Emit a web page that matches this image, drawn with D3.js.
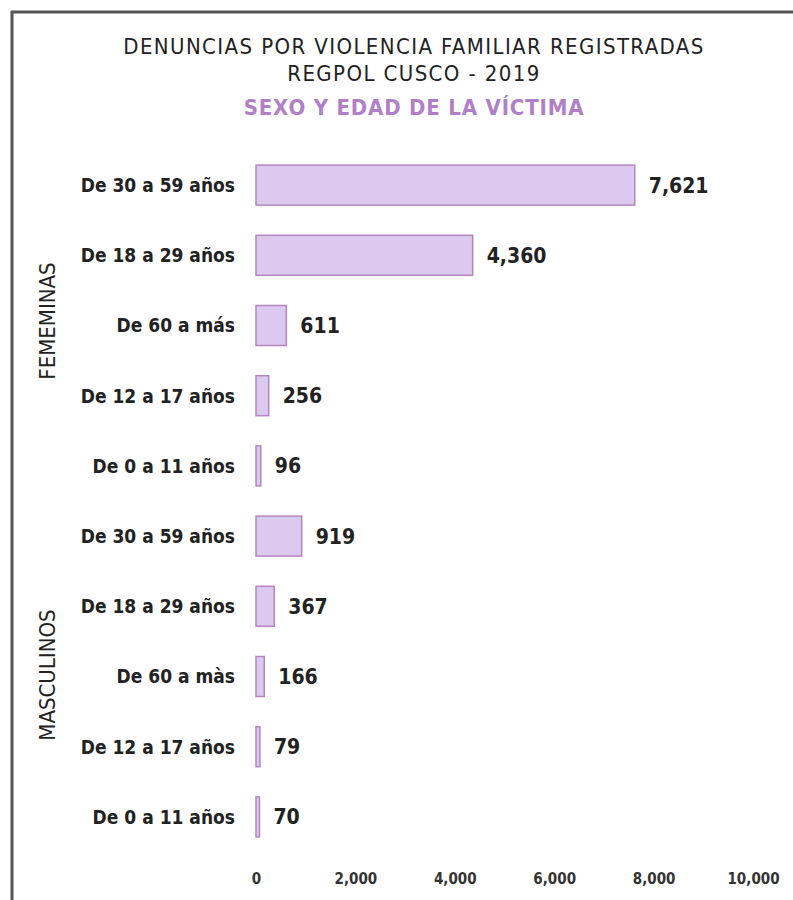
<!DOCTYPE html>
<html>
<head>
<meta charset="utf-8">
<script src="https://cdn.jsdelivr.net/npm/d3@7"></script>
<style>
body { margin: 0; background: #fff; }
svg text { font-family: "DejaVu Sans Condensed", "DejaVu Sans", sans-serif; }
</style>
</head>
<body>
<svg id="chart"></svg>
<script>
// categories (top to bottom)
var categories = ["De 30 a 59 años", "De 18 a 29 años", "De 60 a más", "De 12 a 17 años", "De 0 a 11 años",
    "De 30 a 59 años", "De 18 a 29 años", "De 60 a màs", "De 12 a 17 años", "De 0 a 11 años"]
var groups = ["F", "F", "F", "F", "F", "M", "M", "M", "M", "M"]
var values = [7621, 4360, 611, 256, 96, 919, 367, 166, 79, 70]
var groupNames = ["FEMEMINAS", "MASCULINOS"]
var tickValues = [0, 2000, 4000, 6000, 8000, 10000]
var titleLines = ["DENUNCIAS POR VIOLENCIA FAMILIAR REGISTRADAS", "REGPOL CUSCO - 2019"]
var subtitle = "SEXO Y EDAD DE LA VÍCTIMA"

var screen = { width: 793, height: 900 }
var margins = { left: 256, top: 150, bottom: 865 }

var svg = d3.select("#chart")
    .attr("width", screen.width)
    .attr("height", screen.height)

// frame of the scanned page
svg.append("line")
    .attr("x1", 12).attr("y1", 11).attr("x2", 12).attr("y2", 900)
    .attr("stroke", "#555").attr("stroke-width", 3)
svg.append("line")
    .attr("x1", 11).attr("y1", 12).attr("x2", 793).attr("y2", 12)
    .attr("stroke", "#555").attr("stroke-width", 3)

var rows = d3.range(values.length)

var xScale = d3.scaleLinear()
    .domain([0, 10000])
    .range([margins.left, 753])

var yScale = d3.scaleBand()
    .domain(rows)
    .range([margins.top, margins.top + 70.2 * values.length])
    .paddingInner(0.43)
    .paddingOuter(0.215)

// titles
var titles = svg.append("g").attr("text-anchor", "middle")
titleLines.forEach(function (line, i) {
    titles.append("text")
        .text(line)
        .attr("x", 414)
        .attr("y", 54 + i * 27)
        .attr("font-size", 22)
        .attr("letter-spacing", 1.4)
        .attr("fill", "#222")
})
titles.append("text")
    .text(subtitle)
    .attr("x", 414)
    .attr("y", 115)
    .attr("font-size", 22)
    .attr("letter-spacing", 0.8)
    .attr("font-weight", "bold")
    .attr("fill", "#b17fc7")

// bars
svg.append("g")
    .selectAll("rect")
    .data(rows)
    .enter()
    .append("rect")
    .attr("x", xScale(0))
    .attr("y", function (i) { return yScale(i) })
    .attr("width", function (i) { return Math.max(2, xScale(values[i]) - xScale(0)) })
    .attr("height", yScale.bandwidth())
    .attr("fill", "#dcc9ef")
    .attr("stroke", "#b784c2")
    .attr("stroke-width", 1.5)

// value labels
var fmt = d3.format(",")
svg.append("g")
    .selectAll("text")
    .data(rows)
    .enter()
    .append("text")
    .text(function (i) { return fmt(values[i]) })
    .attr("x", function (i) { return Math.max(xScale(0) + 2, xScale(values[i])) + 14 })
    .attr("y", function (i) { return yScale(i) + yScale.bandwidth() / 2 })
    .attr("dy", "0.36em")
    .attr("font-size", 21)
    .attr("font-weight", "bold")
    .attr("fill", "#222")

// category labels
svg.append("g")
    .attr("text-anchor", "end")
    .selectAll("text")
    .data(rows)
    .enter()
    .append("text")
    .text(function (i) { return categories[i] })
    .attr("x", 235)
    .attr("y", function (i) { return yScale(i) + yScale.bandwidth() / 2 })
    .attr("dy", "0.36em")
    .attr("font-size", 19)
    .attr("font-weight", "bold")
    .attr("fill", "#222")

// group labels
groupNames.forEach(function (name, g) {
    var cy = g === 0 ? 321 : 675
    svg.append("text")
        .text(name)
        .attr("text-anchor", "middle")
        .attr("transform", "translate(55," + cy + ") rotate(-90)")
        .attr("font-size", 22)
        .attr("fill", "#222")
})

// x axis
var xAxis = d3.axisBottom(xScale)
    .tickValues(tickValues)
    .tickFormat(fmt)
    .tickSize(0)
    .tickPadding(0)
var axis = svg.append("g")
    .attr("transform", "translate(0,873)")
    .call(xAxis)
axis.select(".domain").remove()
axis.selectAll("text")
    .attr("font-size", 15)
    .attr("font-weight", "bold")
    .attr("fill", "#333")
    .attr("font-family", "\"DejaVu Sans Condensed\", sans-serif")
</script>
</body>
</html>
